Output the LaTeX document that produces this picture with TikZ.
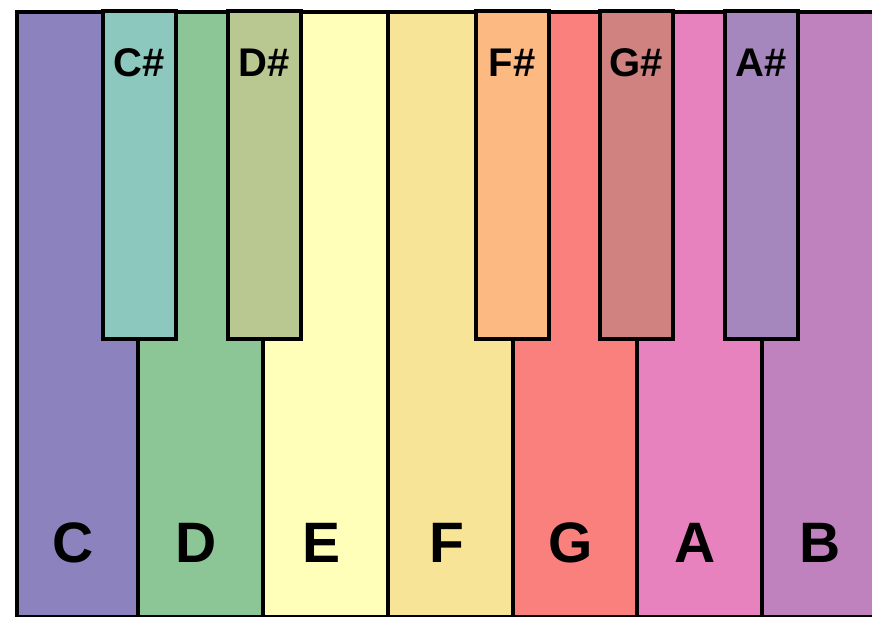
\documentclass[tikz,border=0pt]{standalone}
\usepackage{fontspec}
\setmainfont{Liberation Sans}
\definecolor{keyC}{RGB}{139,130,190}
\definecolor{keyCs}{RGB}{140,200,190}
\definecolor{keyD}{RGB}{140,198,150}
\definecolor{keyDs}{RGB}{185,200,145}
\definecolor{keyE}{RGB}{255,255,185}
\definecolor{keyF}{RGB}{248,228,150}
\definecolor{keyFs}{RGB}{252,185,130}
\definecolor{keyG}{RGB}{250,128,125}
\definecolor{keyGs}{RGB}{208,130,128}
\definecolor{keyA}{RGB}{232,130,190}
\definecolor{keyAs}{RGB}{165,135,190}
\definecolor{keyB}{RGB}{192,130,190}
\tikzset{
  whitekey/.style={draw=black, line width=4pt, rectangle, inner sep=0pt,
    minimum height=605pt, anchor=north},
  blackkey/.style={draw=black, line width=4pt, rectangle, inner sep=0pt,
    minimum width=73pt, minimum height=328pt, anchor=north},
  bignote/.style={font=\bfseries\fontsize{57}{57}\selectfont, inner sep=0pt, anchor=base},
  sharpnote/.style={font=\bfseries\fontsize{40}{40}\selectfont, inner sep=0pt, anchor=base},
}
\begin{document}
\begin{tikzpicture}[x=1pt,y=-1pt]
  \useasboundingbox (0,0) rectangle (872,617);
  \clip (0,0) rectangle (872,617);
  \fill[white] (0,0) rectangle (872,617);
  % white keys: name / colour / left edge / right edge
  \foreach \name/\col/\l/\r in {C/keyC/17/138,D/keyD/138/263,E/keyE/263/388,
      F/keyF/388/513,G/keyG/513/637,A/keyA/637/762,B/keyB/762/887}{
    \pgfmathsetmacro{\keywd}{\r-\l}
    \pgfmathsetmacro{\keymid}{(\l+\r)/2}
    \node[whitekey, fill=\col, minimum width=\keywd pt] (w\name) at (\keymid,10) {};
    \node[bignote] (l\name) at ([xshift=-4pt,yshift=57pt]w\name.south) {\name};
  }
  % black keys, centred on the boundaries between white keys
  \foreach \name/\lbl/\col/\x in {Cs/C\#/keyCs/139,Ds/D\#/keyDs/264,Fs/F\#/keyFs/512,
      Gs/G\#/keyGs/636,As/A\#/keyAs/761}{
    \node[blackkey, fill=\col] (b\name) at (\x,9) {};
    \node[sharpnote] (l\name) at ([yshift=-68pt]b\name.north) {\lbl};
  }
\end{tikzpicture}
\end{document}
